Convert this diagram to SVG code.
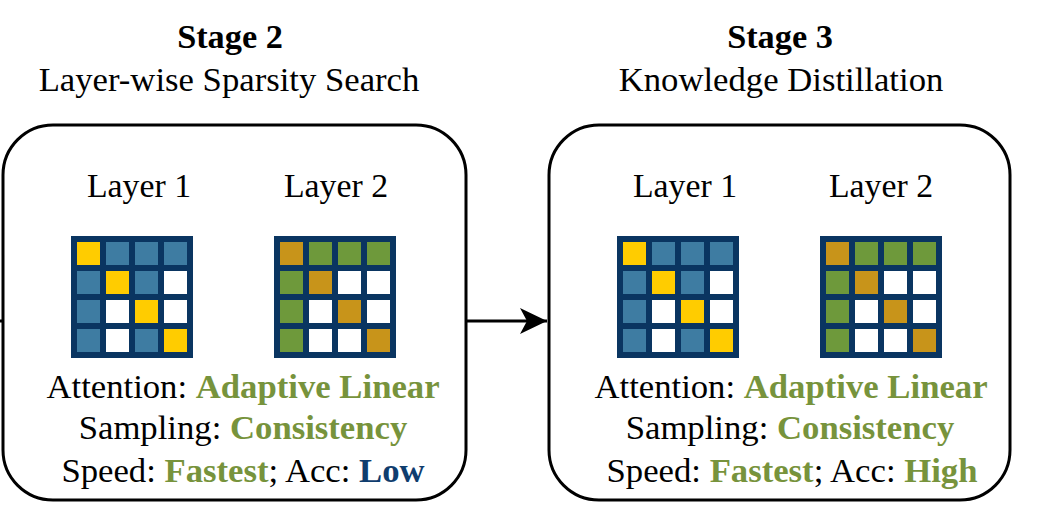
<svg xmlns="http://www.w3.org/2000/svg" xmlns:xlink="http://www.w3.org/1999/xlink" width="1045" height="524" viewBox="0 0 1045 524">
<style>
.t{font-family:"Liberation Serif","Times New Roman",serif;font-size:34.7px;fill:#000;text-anchor:middle}
.b{font-weight:bold;font-size:34.3px}
.l{font-size:33.8px}
.g{fill:#77933C;font-weight:bold}
.n{fill:#0F3D6E;font-weight:bold}
.box{fill:#fff;stroke:#000;stroke-width:3}
.frame{fill:#0A3561}
.bl{fill:#3E7CA2}
.y{fill:#FFCC00}
.au{fill:#C8941A}
.gr{fill:#6E993B}
.w{fill:#fff}
.ln{stroke:#000;stroke-width:3;fill:none}
</style>
<defs>
<marker id="ah" markerWidth="27" markerHeight="26" refX="27" refY="13" orient="auto" markerUnits="userSpaceOnUse">
<path d="M0,0 L27,13 L0,26 L7,13 Z" fill="#000"/>
</marker>
<g id="gridA">
<rect class="frame" x="0" y="0" width="122" height="122"/>
<rect class="y" x="6" y="6" width="23" height="23"/><rect class="bl" x="35" y="6" width="23" height="23"/><rect class="bl" x="64" y="6" width="23" height="23"/><rect class="bl" x="93" y="6" width="23" height="23"/>
<rect class="bl" x="6" y="35" width="23" height="23"/><rect class="y" x="35" y="35" width="23" height="23"/><rect class="bl" x="64" y="35" width="23" height="23"/><rect class="w" x="93" y="35" width="23" height="23"/>
<rect class="bl" x="6" y="64" width="23" height="23"/><rect class="w" x="35" y="64" width="23" height="23"/><rect class="y" x="64" y="64" width="23" height="23"/><rect class="w" x="93" y="64" width="23" height="23"/>
<rect class="bl" x="6" y="93" width="23" height="23"/><rect class="w" x="35" y="93" width="23" height="23"/><rect class="bl" x="64" y="93" width="23" height="23"/><rect class="y" x="93" y="93" width="23" height="23"/>
</g>
<g id="gridB">
<rect class="frame" x="0" y="0" width="122" height="122"/>
<rect class="au" x="6" y="6" width="23" height="23"/><rect class="gr" x="35" y="6" width="23" height="23"/><rect class="gr" x="64" y="6" width="23" height="23"/><rect class="gr" x="93" y="6" width="23" height="23"/>
<rect class="gr" x="6" y="35" width="23" height="23"/><rect class="au" x="35" y="35" width="23" height="23"/><rect class="w" x="64" y="35" width="23" height="23"/><rect class="w" x="93" y="35" width="23" height="23"/>
<rect class="gr" x="6" y="64" width="23" height="23"/><rect class="w" x="35" y="64" width="23" height="23"/><rect class="au" x="64" y="64" width="23" height="23"/><rect class="w" x="93" y="64" width="23" height="23"/>
<rect class="gr" x="6" y="93" width="23" height="23"/><rect class="w" x="35" y="93" width="23" height="23"/><rect class="w" x="64" y="93" width="23" height="23"/><rect class="au" x="93" y="93" width="23" height="23"/>
</g>
</defs>
<rect width="1045" height="524" fill="#fff"/>
<g id="connectors">
<line class="ln" x1="0" y1="321" x2="4" y2="321"/>
<line class="ln" x1="466" y1="321" x2="547" y2="321" marker-end="url(#ah)"/>
</g>
<g id="stage2">
<text class="t b" x="230" y="48">Stage 2</text>
<text class="t" x="229" y="91">Layer-wise Sparsity Search</text>
<rect class="box" x="3" y="125" width="463" height="375" rx="50" ry="50"/>
<text class="t l" x="139" y="197">Layer 1</text>
<text class="t l" x="336" y="197">Layer 2</text>
<use xlink:href="#gridA" x="71" y="236"/>
<use xlink:href="#gridB" x="274" y="236"/>
<text class="t" x="243" y="398">Attention: <tspan class="g">Adaptive Linear</tspan></text>
<text class="t" x="243" y="439">Sampling: <tspan class="g">Consistency</tspan></text>
<text class="t" x="243" y="482">Speed: <tspan class="g">Fastest</tspan>; Acc: <tspan class="n">Low</tspan></text>
</g>
<g id="stage3">
<text class="t b" x="780" y="48">Stage 3</text>
<text class="t" x="781" y="91">Knowledge Distillation</text>
<rect class="box" x="549" y="125" width="461" height="375" rx="50" ry="50"/>
<text class="t l" x="685" y="197">Layer 1</text>
<text class="t l" x="881" y="197">Layer 2</text>
<use xlink:href="#gridA" x="617" y="236"/>
<use xlink:href="#gridB" x="820" y="236"/>
<text class="t" x="791" y="398">Attention: <tspan class="g">Adaptive Linear</tspan></text>
<text class="t" x="790" y="439">Sampling: <tspan class="g">Consistency</tspan></text>
<text class="t" x="792" y="482">Speed: <tspan class="g">Fastest</tspan>; Acc: <tspan class="g">High</tspan></text>
</g>
</svg>
